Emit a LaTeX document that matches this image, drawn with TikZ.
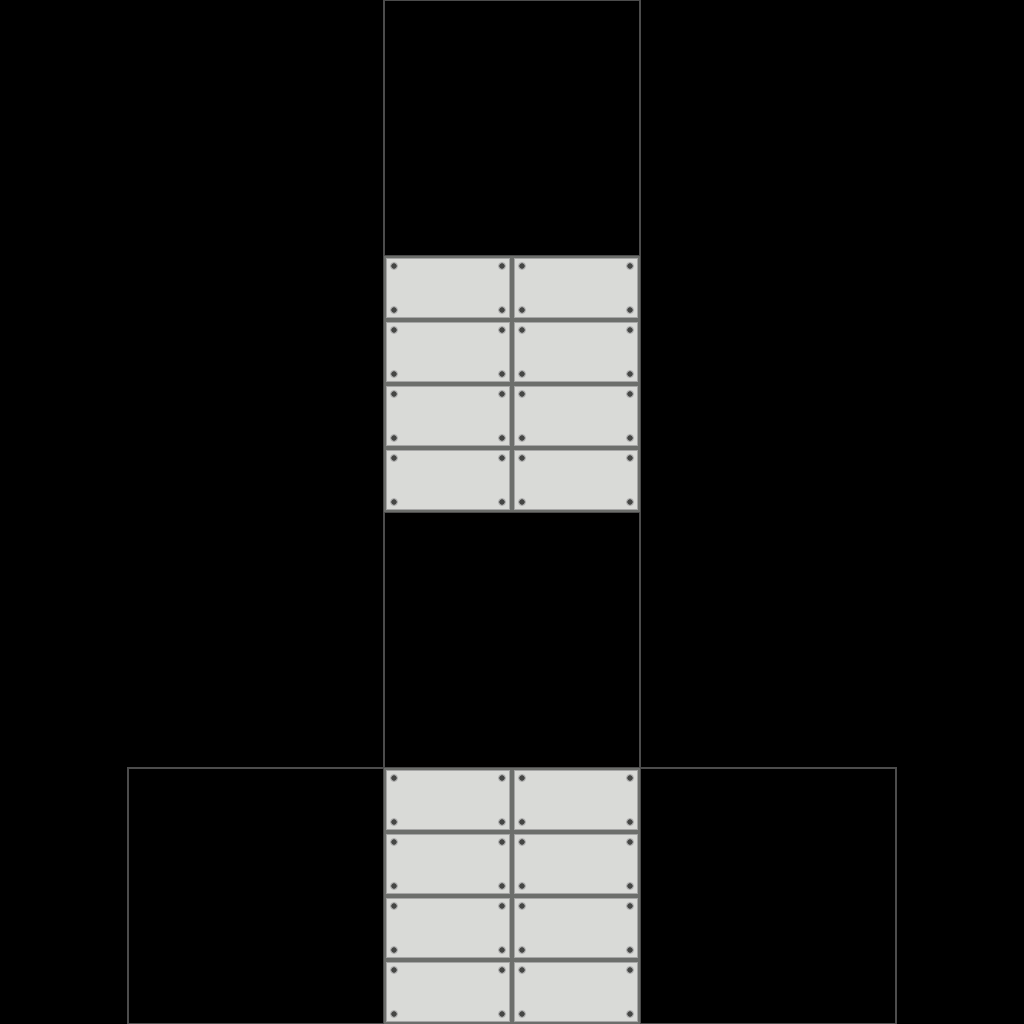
\documentclass[tikz,border=0pt]{standalone}
\usetikzlibrary{calc}

\definecolor{cellgray}{HTML}{4C4C4C}
\definecolor{groutgray}{HTML}{6C6E6B}
\definecolor{concrete}{HTML}{D9DAD7}
\definecolor{boltgray}{HTML}{454644}

\tikzstyle{cell}=[rectangle, draw=cellgray, line width=0.7pt,
                  inner sep=0, minimum width=2.56cm, minimum height=2.56cm]
\tikzstyle{tile}=[rectangle, fill=groutgray,
                  inner sep=0, minimum width=2.56cm, minimum height=2.56cm]
\tikzstyle{panel}=[rectangle, fill=concrete, draw=gray!70, line width=0.3pt,
                   inner sep=0, minimum width=1.23cm, minimum height=0.59cm,
                   path picture={
                     \filldraw[fill=boltgray, draw=gray!60, line width=0.3pt] ($(path picture bounding box.north west)+(0.075,-0.075)$) circle (0.035);
                     \filldraw[fill=boltgray, draw=gray!60, line width=0.3pt] ($(path picture bounding box.north east)+(-0.075,-0.075)$) circle (0.035);
                     \filldraw[fill=boltgray, draw=gray!60, line width=0.3pt] ($(path picture bounding box.south west)+(0.075,0.075)$) circle (0.035);
                     \filldraw[fill=boltgray, draw=gray!60, line width=0.3pt] ($(path picture bounding box.south east)+(-0.075,0.075)$) circle (0.035);
                   }]

\begin{document}
\begin{tikzpicture}

\useasboundingbox (0,0) rectangle (10.24,10.24);
\fill[black] (0,0) rectangle (10.24,10.24);

%%%%%%%%%%%%%%%%%%
%%%%%%%%%%%%%%%%%%
\node (Top_Cell) at (5.12, 8.96) [cell] {};

\node (Upper_Cell) at (5.12, 6.40) [cell] {};

\node (Middle_Cell) at (5.12, 3.84) [cell] {};

\node (Bottom_Cell) at (5.12, 1.28) [cell] {};

\node (Left_Cell) at (2.56, 1.28) [cell] {};

\node (Right_Cell) at (7.68, 1.28) [cell] {};

%%%%%%%%%%%%%%%%%%
\node (Upper_Tile) at (5.12, 6.40) [tile] {};

\node (A1_Upper) at (4.48, 7.36) [panel] {};

\node (B1_Upper) at (5.76, 7.36) [panel] {};

\node (A2_Upper) at (4.48, 6.72) [panel] {};

\node (B2_Upper) at (5.76, 6.72) [panel] {};

\node (A3_Upper) at (4.48, 6.08) [panel] {};

\node (B3_Upper) at (5.76, 6.08) [panel] {};

\node (A4_Upper) at (4.48, 5.44) [panel] {};

\node (B4_Upper) at (5.76, 5.44) [panel] {};

%%%%%%%%%%%%%%%%%%
\node (Bottom_Tile) at (5.12, 1.28) [tile] {};

\node (A1_Bottom) at (4.48, 2.24) [panel] {};

\node (B1_Bottom) at (5.76, 2.24) [panel] {};

\node (A2_Bottom) at (4.48, 1.60) [panel] {};

\node (B2_Bottom) at (5.76, 1.60) [panel] {};

\node (A3_Bottom) at (4.48, 0.96) [panel] {};

\node (B3_Bottom) at (5.76, 0.96) [panel] {};

\node (A4_Bottom) at (4.48, 0.32) [panel] {};

\node (B4_Bottom) at (5.76, 0.32) [panel] {};

\end{tikzpicture}
\end{document}
